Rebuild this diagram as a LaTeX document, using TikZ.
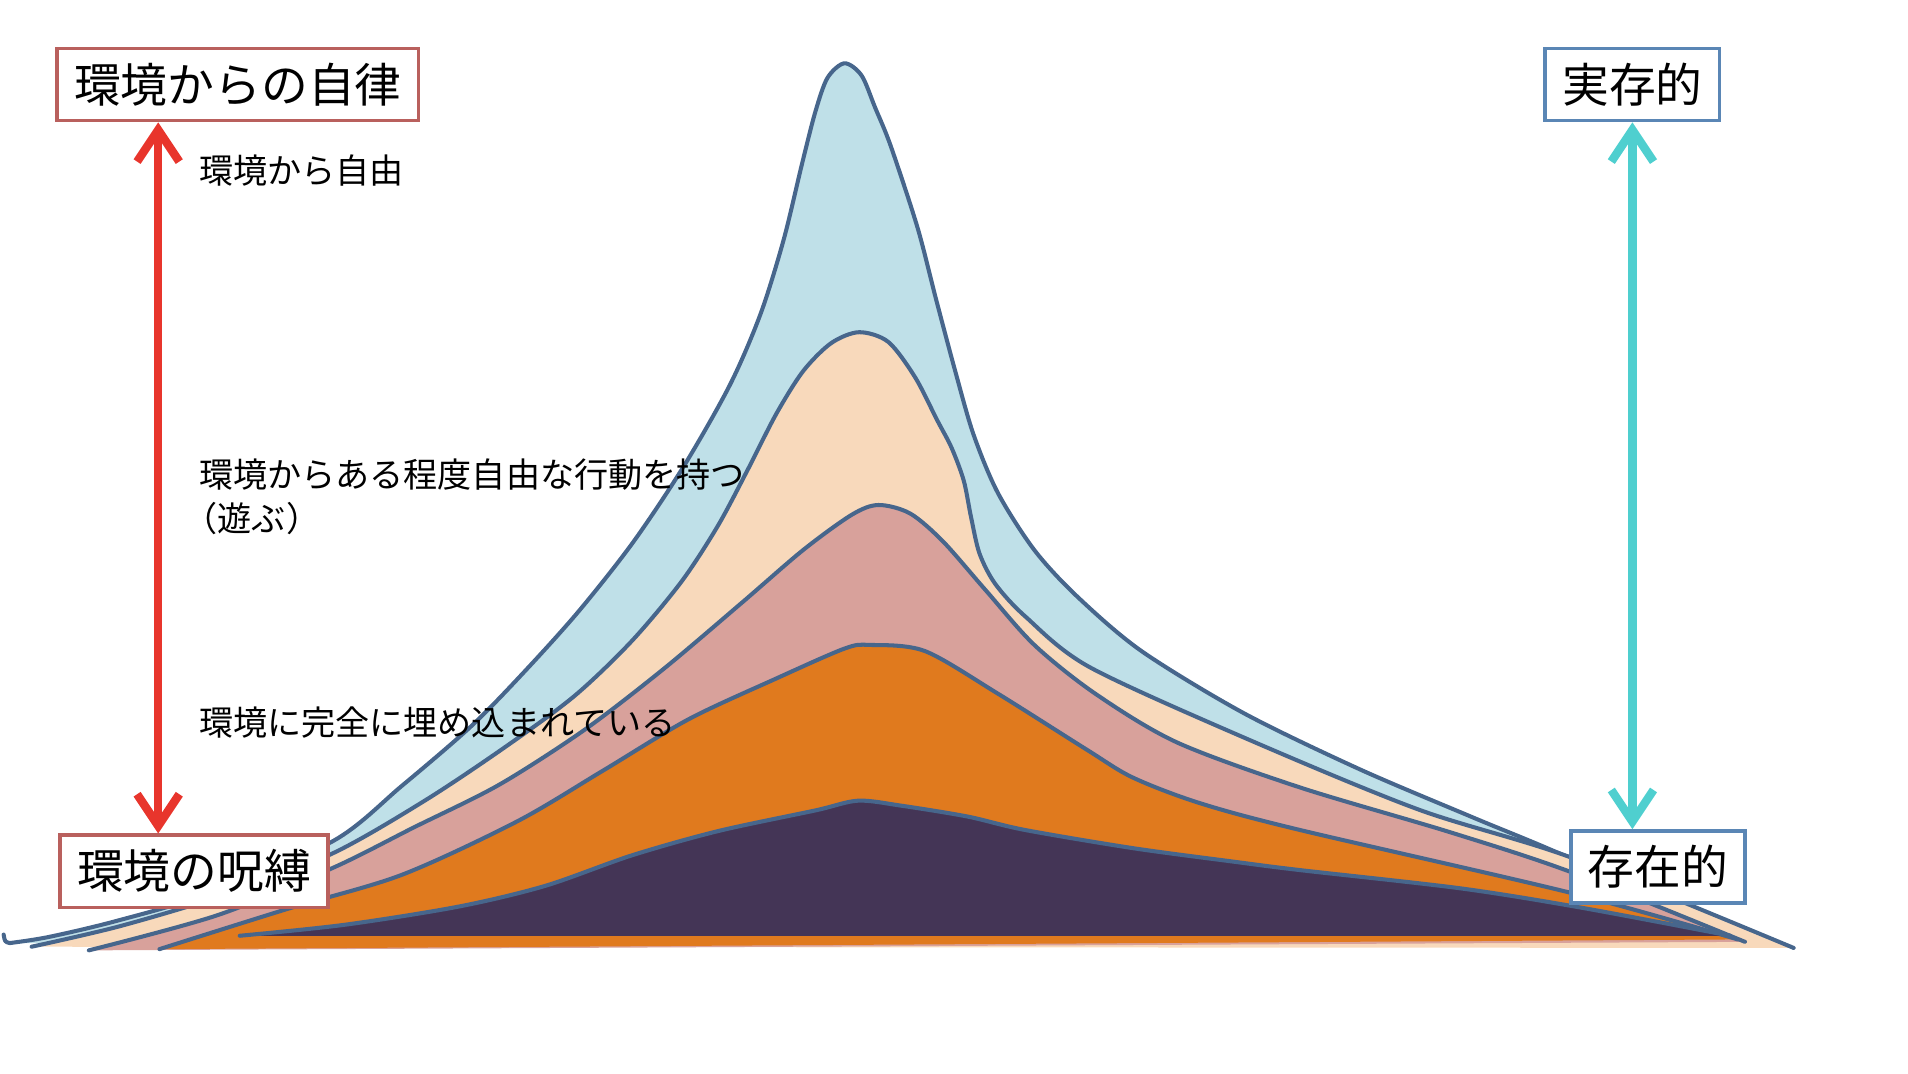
\documentclass[tikz,border=0pt]{standalone}
\usepackage{fontspec}
\newfontfamily\jpfont{Noto Sans CJK JP}
\usetikzlibrary{arrows.meta}

\definecolor{couchebleu}{HTML}{BFE0E8}
\definecolor{couchecreme}{HTML}{F8D9BB}
\definecolor{coucherose}{HTML}{D8A19B}
\definecolor{coucheorange}{HTML}{E07A1E}
\definecolor{couchevioline}{HTML}{443556}
\definecolor{contour}{HTML}{47668C}
\definecolor{flecherouge}{HTML}{E8352C}
\definecolor{flechecyan}{HTML}{4FCFCF}
\definecolor{borderouge}{HTML}{B9605D}
\definecolor{bordebleu}{HTML}{5A86B5}

\begin{document}
\begin{tikzpicture}[x=0.012168cm, y=-0.012168cm,
    couche/.style={draw=contour, line width=1.15pt, line join=round, line cap=round},
    cadre/.style={draw=#1, line width=1pt, fill=white, inner xsep=0.17cm,
        minimum height=0.72cm, font=\jpfont\fontsize{13.3}{16}\selectfont},
    texte/.style={anchor=west, align=left, inner sep=0pt,
        font=\jpfont\fontsize{9.7}{12.4}\selectfont},
    fleche/.style={draw=#1, line width=2.4pt,
        {Straight Barb[length=9pt,width=12pt]}-{Straight Barb[length=9pt,width=12pt]}}]
    \useasboundingbox (0,0) rectangle (1568,882);

    % Couches
    \draw[couche, fill=couchebleu] plot[smooth, tension=0.5] coordinates {
        (8,775) (40,770) (95,757) (173,734) (274,691) (330,646) (387,597)
        (430,553) (475,503) (520,446) (562,383) (600,316) (625,258) (644,197)
        (659,135) (670,92) (680,64) (694,52) (708,62) (719,88) (732,120)
        (754,187) (769,245) (785,305) (800,357) (820,405) (850,452) (885,490)
        (938,535) (1022,586) (1117,632) (1211,672) (1292,706) (1442,776)};
    \draw[couche] (8,775) .. controls (4,774) .. (3,768);
    \draw[couche, fill=couchecreme] plot[smooth, tension=0.5] coordinates {
        (26,778) (99,761) (189,734) (274,701) (349,658) (415,614) (472,572)
        (519,527) (560,478) (590,432) (615,385) (638,340) (660,305) (683,282)
        (706,273) (730,281) (752,310) (770,345) (782,368) (792,395) (798,425)
        (805,455) (818,480) (843,507) (895,548) (1022,606) (1165,665)
        (1292,705) (1474,779)};
    \draw[couche, fill=coucherose] plot[smooth, tension=0.5] coordinates {
        (73,781) (179,752) (274,713) (340,680) (410,645) (480,600) (545,550)
        (610,495) (660,452) (700,423) (722,415) (748,422) (775,445) (810,485)
        (850,530) (900,570) (967,610) (1068,647) (1192,684) (1292,717) (1434,774)};
    \draw[couche, fill=coucheorange] plot[smooth, tension=0.5] coordinates {
        (131,780) (236,747) (330,719) (425,675) (496,633) (566,591) (637,558)
        (694,533) (715,530) (760,535) (820,570) (893,616) (931,639) (986,660)
        (1068,682) (1292,734) (1428,772)};
    \draw[couche, fill=couchevioline] plot[smooth, tension=0.5] coordinates {
        (197,769) (283,760) (377,745) (448,728) (519,703) (590,683) (670,666)
        (705,658) (740,662) (795,671) (842,682) (931,697) (1013,708) (1068,715)
        (1200,730) (1300,746) (1422,769)};

    % Textes
    \node[texte] (libre) at (163,140) {環境から自由};
    \node[texte] (jeu) at (163,408) {環境からある程度自由な行動を持つ\\\hspace*{-0.45em}（遊ぶ）};
    \node[texte] (ancre) at (163,594) {環境に完全に埋め込まれている};

    % Cadres
    \node[cadre=borderouge] (autonomie) at (195.5,69.5) {環境からの自律};
    \node[cadre=borderouge] (envoutement) at (159.5,716) {環境の呪縛};
    \node[cadre=bordebleu] (existentiel) at (1341.5,69.5) {実存的};
    \node[cadre=bordebleu] (existant) at (1362.5,712.5) {存在的};

    % Fleches
    \coordinate (axegauche) at (130,0);
    \draw[fleche=flecherouge] (autonomie.south -| axegauche) -- (envoutement.north -| axegauche);
    \draw[fleche=flechecyan] (existentiel.south) -- (existentiel.south |- existant.north);
\end{tikzpicture}
\end{document}
